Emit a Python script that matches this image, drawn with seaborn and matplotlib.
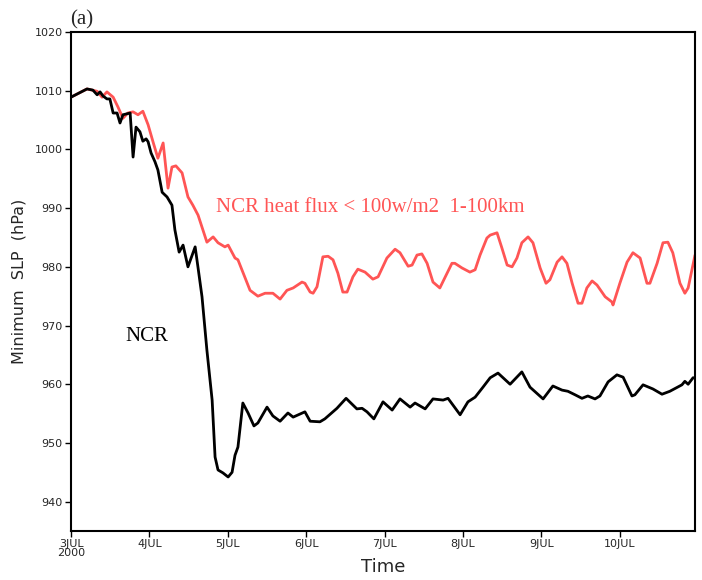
import matplotlib
matplotlib.use("Agg")
import matplotlib.pyplot as plt
import seaborn as sns
import pandas as pd

# Hours since 3 JUL 2000 00Z and minimum SLP (hPa)
ncr_hours = [0, 4.9, 6.7, 8.0, 8.9, 9.8, 11.0, 11.9, 12.9, 14.1, 15.0, 15.9, 18.1, 19.0, 19.9,
             21.1, 22.0, 23.0, 23.6, 24.5, 25.7, 26.6, 27.9, 29.4, 30.9, 31.8, 33.1, 34.3, 35.8,
             38.0, 38.9, 40.1, 41.6, 43.2, 44.1, 45.0, 46.5, 48.1, 49.3, 50.2, 51.1, 52.6, 54.2,
             56.0, 57.2, 60.0, 61.8, 64.0, 66.4, 68.0, 71.6, 73.2, 76.2, 77.7, 81.4, 84.2, 87.5,
             89.1, 90.6, 92.7, 95.5, 98.3, 100.7, 103.8, 105.3, 108.4, 110.8, 113.9, 115.4, 119.1,
             121.5, 123.7, 126.1, 128.3, 130.7, 134.4, 138.0, 140.5, 144.5, 147.5, 150.3, 152.1,
             154.3, 156.4, 158.2, 160.4, 161.9, 164.4, 167.1, 169.0, 171.7, 172.6, 175.1, 178.1,
             180.9, 183.3, 187.0, 187.9, 188.9, 190.4, 191.0]
ncr_slp = [1008.9, 1010.3, 1010.1, 1009.3, 1009.8, 1009.1, 1008.6, 1008.6, 1006.2, 1006.2, 1004.5,
           1005.9, 1006.2, 998.7, 1003.8, 1003.0, 1001.4, 1001.8, 1001.3, 999.4, 997.9, 996.5,
           992.7, 991.9, 990.5, 986.3, 982.5, 983.7, 980.0, 983.4, 979.8, 974.9, 965.8, 957.3,
           947.6, 945.4, 944.9, 944.2, 945.0, 947.9, 949.3, 956.8, 955.1, 952.9, 953.4, 956.1,
           954.6, 953.7, 955.1, 954.4, 955.3, 953.7, 953.6, 954.1, 955.9, 957.6, 955.8, 955.9,
           955.3, 954.1, 957.0, 955.6, 957.5, 956.1, 956.8, 955.8, 957.5, 957.3, 957.6, 954.8,
           957.0, 957.8, 959.5, 961.1, 961.9, 960.0, 962.1, 959.5, 957.5, 959.7, 959.0, 958.8,
           958.2, 957.6, 958.0, 957.5, 958.0, 960.4, 961.6, 961.2, 958.0, 958.2, 959.9, 959.2,
           958.3, 958.8, 959.9, 960.5, 960.0, 961.1, 961.1]

heat_hours = [0, 4.9, 8.0, 9.5, 11.0, 12.9, 14.4, 15.9, 17.4, 19.0, 20.5, 22.0, 23.6, 25.1, 26.6,
              28.2, 29.7, 30.9, 32.1, 34.0, 35.8, 37.3, 38.9, 41.6, 43.5, 45.0, 47.1, 48.1, 50.2,
              51.1, 54.8, 57.2, 59.4, 61.8, 64.0, 66.1, 68.0, 70.7, 71.6, 73.2, 74.1, 75.3, 77.1,
              78.7, 80.2, 81.7, 83.2, 84.5, 86.3, 87.8, 90.0, 92.4, 94.0, 96.7, 99.2, 100.7, 103.2,
              104.4, 105.9, 107.4, 109.0, 110.8, 112.9, 115.1, 116.6, 117.5, 119.7, 122.1, 123.7,
              125.2, 127.3, 128.3, 130.4, 131.9, 133.5, 135.0, 136.5, 138.0, 139.9, 141.4, 143.6,
              145.4, 146.6, 148.8, 150.3, 151.8, 153.4, 155.2, 156.4, 157.9, 159.5, 161.0, 163.5,
              165.6, 165.9, 168.0, 170.2, 172.0, 174.2, 176.3, 177.2, 179.4, 181.2, 182.7, 184.2,
              186.4, 187.9, 188.9, 191.0]
heat_slp = [1008.9, 1010.3, 1009.9, 1008.9, 1009.8, 1008.9, 1007.2, 1005.3, 1006.2, 1006.4, 1005.9,
            1006.5, 1004.2, 1001.3, 998.5, 1001.1, 993.4, 997.0, 997.2, 996.0, 991.9, 990.5, 988.8,
            984.2, 985.1, 984.1, 983.4, 983.7, 981.5, 981.2, 976.0, 975.0, 975.5, 975.5, 974.5,
            976.0, 976.4, 977.4, 977.2, 975.7, 975.5, 976.6, 981.7, 981.8, 981.2, 978.9, 975.7,
            975.7, 978.3, 979.6, 979.1, 977.9, 978.3, 981.5, 983.0, 982.4, 980.1, 980.3, 982.0,
            982.2, 980.6, 977.4, 976.4, 978.9, 980.6, 980.6, 979.8, 979.1, 979.5, 982.0, 984.9,
            985.4, 985.8, 983.2, 980.3, 980.0, 981.5, 984.1, 985.1, 984.1, 979.8, 977.2, 977.8,
            980.8, 981.7, 980.6, 977.2, 973.8, 973.8, 976.4, 977.6, 976.9, 974.9, 974.0, 973.5,
            977.2, 980.8, 982.4, 981.5, 977.2, 977.2, 980.6, 984.1, 984.2, 982.4, 977.2, 975.5,
            976.4, 982.0]

tick_hours = [0, 24, 48, 72, 96, 120, 144, 168]
tick_labels = ["3JUL\n2000", "4JUL", "5JUL", "6JUL", "7JUL", "8JUL", "9JUL", "10JUL"]
y_ticks = [940, 950, 960, 970, 980, 990, 1000, 1010, 1020]

ncr_df = pd.DataFrame({"hour": ncr_hours, "slp": ncr_slp})
heat_df = pd.DataFrame({"hour": heat_hours, "slp": heat_slp})

sns.set_theme(style="white")
plt.rcParams["font.family"] = ["DejaVu Sans"]

fig = plt.figure(figsize=(7.02, 5.80), dpi=100)
ax = fig.add_axes([71 / 702, 49 / 580, 624 / 702, 499 / 580])

red = "#ff5555"
sns.lineplot(data=heat_df, x="hour", y="slp", color=red, linewidth=2.0, ax=ax,
             estimator=None, sort=False)
sns.lineplot(data=ncr_df, x="hour", y="slp", color="black", linewidth=2.0, ax=ax,
             estimator=None, sort=False)

ax.set_xlim(0, 191)
ax.set_ylim(935, 1020)
ax.set_xticks(tick_hours)
ax.set_xticklabels(tick_labels, fontsize=8, linespacing=0.85)
ax.set_yticks(y_ticks)
ax.set_yticklabels([str(v) for v in y_ticks], fontsize=8)
ax.tick_params(axis="both", direction="out", length=4, width=1, color="black",
               left=True, bottom=True, pad=2)
for s in ax.spines.values():
    s.set_color("black")
    s.set_linewidth(1.5)

ax.set_xlabel("Time", fontsize=13, labelpad=0)
ax.set_ylabel("Minimum  SLP  (hPa)", fontsize=11.5, labelpad=6)

serif = ["Liberation Serif", "DejaVu Serif"]
ax.text(-0.002, 1.005, "(a)", transform=ax.transAxes, fontsize=15, family=serif,
        ha="left", va="bottom")
ax.text(0.0865, 0.39, "NCR", transform=ax.transAxes, fontsize=15, family=serif,
        color="black", ha="left", va="center")
ax.text(0.233, 0.648, "NCR heat flux < 100w/m2  1-100km", transform=ax.transAxes,
        fontsize=15, family=serif, color=red, ha="left", va="center")

fig.savefig("out.png", dpi=100)
